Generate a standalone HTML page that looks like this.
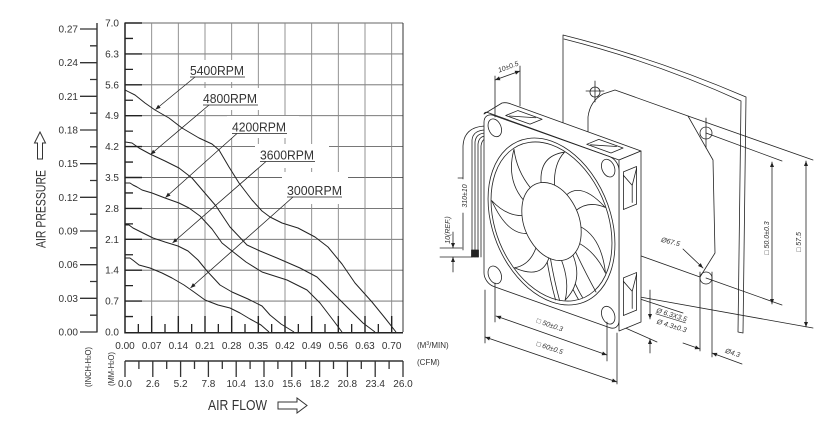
<!DOCTYPE html>
<html>
<head>
<meta charset="utf-8">
<style>
html,body{margin:0;padding:0;background:#fff;}
svg{display:block;}
svg *{vector-effect:non-scaling-stroke;}
text{font-family:"Liberation Sans","DejaVu Sans",sans-serif;}
</style>
</head>
<body>
<svg width="835" height="431" viewBox="0 0 835 431" xmlns="http://www.w3.org/2000/svg">
<defs>
<marker id="a" viewBox="0 0 10 10" refX="10" refY="5" markerUnits="userSpaceOnUse" markerWidth="7" markerHeight="5" orient="auto-start-reverse"><path d="M0,1 L10,5 L0,9 z" fill="#222"/></marker>
<path id="bl" d="M0.215,-0.03 Q0.37,-0.01 0.40,0.19 Q0.33,0.09 0.205,0.07 Z" fill="#fff" stroke="#222" stroke-width="0.8" vector-effect="non-scaling-stroke"/>
</defs>
<rect width="835" height="431" fill="#fff"/>

<!-- ============ CHART ============ -->
<!-- grid -->
<path d="M125,23H403M125,53.9H403M125,84.8H403M125,115.7H403M125,146.6H403M125,177.5H403M125,208.4H403M125,239.3H403M125,270.2H403M125,301.1H403" stroke="#666" stroke-width="0.9" fill="none"/>
<path d="M151.67,23V332M178.33,23V332M205,23V332M231.67,23V332M258.33,23V332M285,23V332M311.67,23V332M338.33,23V332M365,23V332M391.67,23V332" stroke="#888" stroke-width="0.9" fill="none"/>
<path d="M403,23V332" stroke="#333" stroke-width="1" fill="none"/>
<!-- label knockouts -->
<g fill="#fff">
<rect x="186" y="60" width="66" height="22"/>
<rect x="199" y="88" width="72" height="22"/>
<rect x="227" y="116" width="72" height="22"/>
<rect x="255" y="144" width="74" height="24"/>
<rect x="282" y="172" width="66" height="32"/>
</g>
<!-- ticks -->
<path d="M125,23H142M125,53.9H142M125,84.8H142M125,115.7H142M125,146.6H142M125,177.5H142M125,208.4H142M125,239.3H142M125,270.2H142M125,301.1H142" stroke="#222" stroke-width="1.4" fill="none"/>
<path d="M125,38.45H133M125,69.35H133M125,100.25H133M125,131.15H133M125,162.05H133M125,192.95H133M125,223.85H133M125,254.75H133M125,285.65H133M125,316.55H133" stroke="#222" stroke-width="1.3" fill="none"/>
<path d="M151.67,332V316M178.33,332V316M205,332V316M231.67,332V316M258.33,332V316M285,332V316M311.67,332V316M338.33,332V316M365,332V316M391.67,332V316" stroke="#222" stroke-width="1.4" fill="none"/>
<path d="M138.33,332V324M165,332V324M191.67,332V324M218.33,332V324M245,332V324M271.67,332V324M298.33,332V324M325,332V324M351.67,332V324M378.33,332V324" stroke="#222" stroke-width="1.3" fill="none"/>
<path d="M125,22.5V332.7H403" stroke="#222" stroke-width="1.5" fill="none"/>

<!-- inch axis -->
<path d="M97,23V332.5" stroke="#333" stroke-width="1.4" fill="none"/>
<path d="M80,332H97M80,298.33H97M80,264.67H97M80,231H97M80,197.33H97M80,163.67H97M80,130H97M80,96.33H97M80,62.67H97M80,29H97" stroke="#333" stroke-width="1.3" fill="none"/>
<path d="M90,315.17H97M90,281.5H97M90,247.83H97M90,214.17H97M90,180.5H97M90,146.83H97M90,113.17H97M90,79.5H97M90,45.83H97" stroke="#333" stroke-width="1.3" fill="none"/>
<g font-size="10" fill="#333" text-anchor="end">
<text x="78" y="335.5">0.00</text><text x="78" y="301.8">0.03</text><text x="78" y="268.2">0.06</text><text x="78" y="234.5">0.09</text><text x="78" y="200.8">0.12</text><text x="78" y="167.2">0.15</text><text x="78" y="133.5">0.18</text><text x="78" y="99.8">0.21</text><text x="78" y="66.2">0.24</text><text x="78" y="32.5">0.27</text>
<text x="119" y="335.5">0.0</text><text x="119" y="304.6">0.7</text><text x="119" y="273.7">1.4</text><text x="119" y="242.8">2.1</text><text x="119" y="211.9">2.8</text><text x="119" y="181">3.5</text><text x="119" y="150.1">4.2</text><text x="119" y="119.2">4.9</text><text x="119" y="88.3">5.6</text><text x="119" y="57.4">6.3</text><text x="119" y="26.5">7.0</text>
</g>
<g font-size="10" fill="#333" text-anchor="middle">
<text x="125" y="349">0.00</text><text x="151.67" y="349">0.07</text><text x="178.33" y="349">0.14</text><text x="205" y="349">0.21</text><text x="231.67" y="349">0.28</text><text x="258.33" y="349">0.35</text><text x="285" y="349">0.42</text><text x="311.67" y="349">0.49</text><text x="338.33" y="349">0.56</text><text x="365" y="349">0.63</text><text x="391.67" y="349">0.70</text>
<text x="125" y="387">0.0</text><text x="152.8" y="387">2.6</text><text x="180.6" y="387">5.2</text><text x="208.4" y="387">7.8</text><text x="236.2" y="387">10.4</text><text x="264" y="387">13.0</text><text x="291.8" y="387">15.6</text><text x="319.6" y="387">18.2</text><text x="347.4" y="387">20.8</text><text x="375.2" y="387">23.4</text><text x="403" y="387">26.0</text>
</g>
<!-- CFM axis -->
<path d="M125,361H403" stroke="#333" stroke-width="1.4" fill="none"/>
<path d="M125,361V377M152.8,361V377M180.6,361V377M208.4,361V377M236.2,361V377M264,361V377M291.8,361V377M319.6,361V377M347.4,361V377M375.2,361V377M403,361V377" stroke="#333" stroke-width="1.3" fill="none"/>
<path d="M138.9,361V369M166.7,361V369M194.5,361V369M222.3,361V369M250.1,361V369M277.9,361V369M305.7,361V369M333.5,361V369M361.3,361V369M389.1,361V369" stroke="#333" stroke-width="1.3" fill="none"/>
<g font-size="8" fill="#333">
<text x="417" y="348">(M<tspan font-size="5" dy="-3">3</tspan><tspan dy="3">/MIN)</tspan></text>
<text x="417" y="365">(CFM)</text>
<text transform="translate(91,367) rotate(-90)" text-anchor="middle" textLength="40" lengthAdjust="spacingAndGlyphs">(INCH-H<tspan font-size="5">2</tspan>O)</text>
<text transform="translate(114,369) rotate(-90)" text-anchor="middle" textLength="34" lengthAdjust="spacingAndGlyphs">(MM-H<tspan font-size="5">2</tspan>O)</text>
</g>
<!-- axis titles -->
<text transform="translate(45.5,209) rotate(-90)" text-anchor="middle" font-size="14" fill="#333" textLength="78" lengthAdjust="spacingAndGlyphs">AIR PRESSURE</text>
<path d="M40,132 L34.5,143 L37.5,143 L37.5,159 L42.5,159 L42.5,143 L45.5,143 Z" fill="none" stroke="#333" stroke-width="1"/>
<text x="208" y="410" font-size="15" fill="#333" textLength="59" lengthAdjust="spacingAndGlyphs">AIR FLOW</text>
<path d="M278,402 L297,402 L297,398 L307,405.5 L297,413 L297,409 L278,409 Z" fill="none" stroke="#333" stroke-width="1"/>

<!-- curves -->
<g fill="none" stroke="#222" stroke-width="1" stroke-linejoin="round">
<polyline points="125,90 135,95 145,103 155,110 169,118 182,128 199,138 212,144 219,150 229,167 239,183 252,200 262,211 270,217 282,223 298,228 315,237 328,247 342,264 355,283 372,302 385,318 396,332"/>
<polyline points="125,142 132,143 139,148 150,154 165,161 179,168 192,178 204,192 216,206 230,227 247,245 260,251 277,258 300,268 317,277 333,293 347,307 363,323 375,332"/>
<polyline points="125,183 130,183 133,185 137,187 142,190 152,193 165,198 179,203 189,208 200,216 212,229 222,243 232,251 246,262 262,272 287,280 307,290 320,303 333,320 342,332"/>
<polyline points="125,225 129,225 133,228 143,233 153,238 165,242 178,246 188,251 198,260 207,271 220,285 232,292 248,299 262,306 270,315 281,324 294,332"/>
<polyline points="125,258 130,258 134,261 139,265 150,268 162,273 172,278 184,285 194,292 205,300 218,305 230,308 240,313 250,319 261,325 269,332"/>
</g>
<!-- labels & leaders -->
<g stroke="#222" stroke-width="0.8" fill="none">
<path d="M195,77 L155.5,109.5" marker-end="url(#a)"/>
<path d="M209,105 L150.5,154.5" marker-end="url(#a)"/>
<path d="M237,133.5 L165.5,197.5" marker-end="url(#a)"/>
<path d="M266,161.5 L172.5,243" marker-end="url(#a)"/>
<path d="M293,197 L190.5,288" marker-end="url(#a)"/>
<path d="M190,77H245M203,105H258M232,133.5H287M260,161.5H315M287,197H342"/>
</g>
<g font-size="13" fill="#333">
<text x="190" y="75" textLength="54" lengthAdjust="spacingAndGlyphs">5400RPM</text>
<text x="203" y="103" textLength="54" lengthAdjust="spacingAndGlyphs">4800RPM</text>
<text x="232" y="131.5" textLength="54" lengthAdjust="spacingAndGlyphs">4200RPM</text>
<text x="260" y="159.5" textLength="54" lengthAdjust="spacingAndGlyphs">3600RPM</text>
<text x="287" y="195" textLength="55" lengthAdjust="spacingAndGlyphs">3000RPM</text>
</g>

<!-- ============ FAN DRAWING ============ -->
<g stroke="#222" stroke-width="0.8" fill="none" stroke-linejoin="round" stroke-linecap="round">
<!-- back plate -->
<path d="M563,35 Q655,58 746,97 L743,333 L600,290 L563,260 Z" fill="#fff" stroke="none"/>
<path d="M563,35 Q655,58 746,97 M564,39 Q655,62 741,101 M746,97 L743,333 M741,101 L738,332 L743,333 M563,35 L563,125"/>
<!-- raised octagon -->
<path d="M588,132 L588,117 Q590,101 603,94 L615,90 L688,116 L713,160 L715,253 L700,277 L630,252"/>
<!-- extension lines -->
<path d="M688,116 L813,160 M706,133 L782,161 M706,278 L782,305 M640,297 L813,328 M640,299 L683,313 M612,322 L657,342"/>
<!-- plate holes -->
<circle cx="595" cy="92" r="5"/><path d="M586,91 H604 M595,81 V102"/>
<circle cx="706" cy="133" r="6"/><path d="M706,118 V148"/>
<circle cx="706" cy="278" r="6"/><path d="M700,272 V351 M712,272 V357"/>
<!-- dims right -->
<path d="M772,162 V304" marker-start="url(#a)" marker-end="url(#a)"/>
<path d="M806,161 V327" marker-start="url(#a)" marker-end="url(#a)"/>
<path d="M650,290 V319" marker-end="url(#a)"/>
<path d="M650,353 V339" marker-end="url(#a)"/>
<path d="M683,343 L700,349" marker-end="url(#a)"/>
<path d="M742,364 L712,353" marker-end="url(#a)"/>
<path d="M683,249 L703,268" marker-end="url(#a)"/>

<!-- cable -->
<path d="M486,130 Q473,130 472,140 V257 M486,133 Q476,133 475,142 V257 M486,136 Q479,136 478,144 V257 M486,139 Q482,139 481,146 V257"/>
<rect x="471.5" y="250" width="7" height="7" fill="#222"/>
<path d="M487,126 Q464,126 463,146 V179 M463,213 V250 M458,178 H463"/>
<path d="M440,248 H462 M440,257 H472"/>
<path d="M453,232 V248" marker-end="url(#a)"/>
<path d="M453,272 V257" marker-end="url(#a)"/>

<!-- fan top & side faces -->
<path d="M484,114 Q485,111 489,113 L619,160 L641,151 L511,104 Q506,102 502,103 Z" fill="#fff"/>
<path d="M619,160 L619,331 L641,322 L641,151 Z" fill="#fff"/>
<g transform="matrix(135,48,22,-9,484,112)">
<rect x="0.12" y="0.25" width="0.18" height="0.55"/>
<path d="M0.14,0.3 L0.26,0.75"/>
<rect x="0.72" y="0.25" width="0.18" height="0.55"/>
<path d="M0.74,0.3 L0.86,0.75"/>
</g>
<g transform="matrix(22,-9,0,171,619,160)">
<rect x="0.2" y="0.08" width="0.6" height="0.22"/>
<path d="M0.2,0.1 L0.6,0.18 L0.6,0.28 M0.6,0.18 L0.8,0.09"/>
<rect x="0.2" y="0.7" width="0.6" height="0.22"/>
<path d="M0.2,0.72 L0.6,0.8 L0.6,0.9 M0.6,0.8 L0.8,0.71"/>
</g>

<!-- front face -->
<g transform="matrix(135,48,0,171,551.5,221.5)">
<rect x="-0.5" y="-0.5" width="1" height="1" rx="0.07" ry="0.06" fill="#fff"/>
<circle cx="-0.42" cy="-0.43" r="0.05"/>
<circle cx="0.42" cy="-0.43" r="0.05"/>
<circle cx="-0.42" cy="0.43" r="0.05"/>
<circle cx="0.42" cy="0.43" r="0.05"/>
<circle cx="0" cy="0" r="0.47" fill="#fff"/>
<circle cx="0" cy="0" r="0.448"/>
<path d="M-0.04,0.21 Q-0.01,0.35 0.03,0.45 M-0.01,0.21 Q0.02,0.34 0.06,0.445 M0.08,0.2 Q0.13,0.33 0.2,0.4 M0.11,0.19 Q0.16,0.31 0.23,0.38 M0.18,0.13 Q0.26,0.24 0.33,0.32"/>
<use href="#bl"/>
<use href="#bl" transform="rotate(51.43)"/>
<use href="#bl" transform="rotate(102.86)"/>
<use href="#bl" transform="rotate(154.29)"/>
<use href="#bl" transform="rotate(205.71)"/>
<use href="#bl" transform="rotate(257.14)"/>
<use href="#bl" transform="rotate(308.57)"/>
<circle cx="0" cy="0" r="0.22" fill="#fff"/>
</g>

<!-- bottom & top dims -->
<path d="M485,290 V343 M495,283 V322 M607,322 V361 M617,333 V384"/>
<path d="M496,316 L607,355" marker-start="url(#a)" marker-end="url(#a)"/>
<path d="M485,337 L617,382" marker-start="url(#a)" marker-end="url(#a)"/>
<path d="M495,117 V76 M520,106 V66"/>
<path d="M495,80 L520,71" marker-start="url(#a)" marker-end="url(#a)"/>
</g>

<!-- fan labels -->
<g font-size="7" font-style="italic" fill="#333">
<text transform="translate(549,327) rotate(19.4)" text-anchor="middle">□ 50±0.3</text>
<text transform="translate(549,350) rotate(18.8)" text-anchor="middle">□ 60±0.5</text>
<text transform="translate(509,69) rotate(-20)" text-anchor="middle">10±0.5</text>
<text transform="translate(467,196) rotate(-90)" text-anchor="middle">310±10</text>
<text transform="translate(450,230) rotate(-90)" text-anchor="middle">10(REF.)</text>
<text transform="translate(769,238) rotate(-90)" text-anchor="middle">□ 50.0±0.3</text>
<text transform="translate(801,242) rotate(-90)" text-anchor="middle">□ 57.5</text>
<text transform="translate(670,244) rotate(14)" text-anchor="middle">Ø67.5</text>
<text transform="translate(732,355) rotate(18)" text-anchor="middle">Ø4.3</text>
<text transform="translate(671,317) rotate(17)" text-anchor="middle" text-decoration="underline">Ø 6.3X3.5</text>
<text transform="translate(671,328) rotate(17)" text-anchor="middle">Ø 4.3±0.3</text>
</g>
</svg>
</body>
</html>
